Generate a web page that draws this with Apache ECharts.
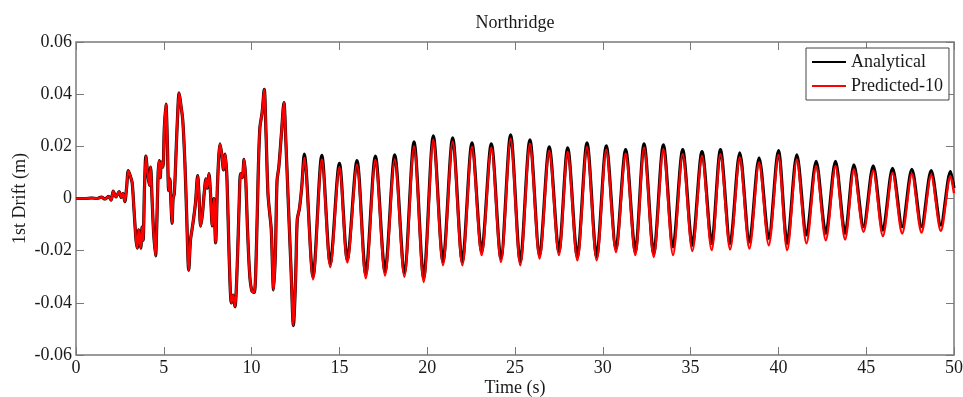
<!DOCTYPE html>
<html>
<head>
<meta charset="utf-8">
<title>Northridge</title>
<script src="https://cdn.jsdelivr.net/npm/echarts@6/dist/echarts.min.js"></script>
<style>
  html, body { margin: 0; padding: 0; background: #fff; }
  #chart { width: 963px; height: 397px; }
</style>
</head>
<body>
<div id="chart"></div>
<script>
// first ~13 s: both responses lie on top of each other
const earlyTimes = [
  0, 0.5, 0.9, 1.2, 1.45, 1.65, 1.85, 2.0, 2.12, 2.28, 2.45, 2.58, 2.68, 2.78, 2.88, 2.98,
  3.1, 3.2, 3.3, 3.42, 3.49, 3.57, 3.63, 3.69, 3.76, 3.82, 3.9, 3.98, 4.08, 4.18, 4.25,
  4.33, 4.42, 4.53, 4.6, 4.68, 4.74, 4.8, 4.86, 4.95, 5.03, 5.12, 5.2, 5.28, 5.35, 5.41,
  5.47, 5.53, 5.6, 5.7, 5.8, 5.87, 5.97, 6.08, 6.2, 6.3, 6.42, 6.52, 6.65, 6.8, 6.93,
  7.0, 7.1, 7.2, 7.3, 7.4, 7.47, 7.57, 7.66, 7.76, 7.85, 7.95, 8.05, 8.13, 8.2, 8.3,
  8.4, 8.5, 8.6, 8.72, 8.85, 8.95, 9.05, 9.18, 9.3, 9.37, 9.47, 9.57, 9.66, 9.78, 9.9,
  10.02, 10.15, 10.27, 10.37, 10.47, 10.6, 10.72, 10.82, 10.93, 11.02, 11.12, 11.25,
  11.35, 11.45, 11.55, 11.7, 11.84, 11.95, 12.08, 12.25, 12.38, 12.5, 12.6, 12.72, 12.85
];
const earlyDrift = [
  0, 0, 0.0002, 0, 0.0005, -0.0002, 0.0008, -0.0006, 0.0028, 0.0006, 0.0026, 0.0004, 0.002, -0.0012, 0.004, 0.0107,
  0.0085, 0.006, -0.004, -0.016, -0.019, -0.012, -0.016, -0.019, -0.011, -0.016, 0.004, 0.0163, 0.0095, 0.005, 0.012,
  0, -0.013, -0.022, -0.01, 0.01, 0.0145, 0.008, 0.014, 0.012, 0.027, 0.0362, 0.022, 0.003, 0.0075, -0.002,
  -0.0095, 0, 0.002, 0.018, 0.034, 0.0405, 0.036, 0.03, 0.014, -0.006, -0.0275, -0.016, -0.01, -0.002, 0.0088,
  0.002, -0.0106, -0.006, 0.002, 0.0075, 0.004, 0.0095, 0.002, -0.0105, 0, -0.017, 0.004, 0.016, 0.021, 0.017,
  0.011, 0.017, 0.007, -0.022, -0.04, -0.037, -0.0415, -0.026, 0, 0.0095, 0.008, 0.015, 0.008, -0.014, -0.03,
  -0.0355, -0.036, -0.02, 0.008, 0.027, 0.033, 0.0418, 0.025, 0.002, -0.005, -0.012, -0.035,
  -0.022, 0.007, 0.012, 0.025, 0.0368, 0.022, 0, -0.028, -0.0487, -0.032, -0.008, -0.004, 0.004
];

// free vibration part: peaks and troughs, the two curves separate slightly
const laterTimes = [
  13.0, 13.5, 14.0, 14.48, 15.0, 15.45, 16.0, 16.5, 17.05, 17.6, 18.15, 18.7, 19.25, 19.8,
  20.35, 20.9, 21.45, 22.0, 22.55, 23.1, 23.65, 24.2, 24.75, 25.3, 25.85, 26.4, 26.95, 27.5,
  28.0, 28.55, 29.1, 29.65, 30.2, 30.75, 31.3, 31.85, 32.35, 32.9, 33.45, 34.0, 34.55, 35.1,
  35.65, 36.2, 36.7, 37.25, 37.8, 38.35, 38.9, 39.45, 40.0, 40.5, 41.05, 41.6, 42.15, 42.7,
  43.25, 43.8, 44.3, 44.85, 45.4, 45.95, 46.5, 47.05, 47.6, 48.15, 48.7, 49.25, 49.8, 50.0
];
const laterAnalytical = [
  0.017, -0.030, 0.0165, -0.025, 0.0135, -0.0235, 0.0145, -0.029, 0.0163, -0.028, 0.0167, -0.0285, 0.0217, -0.0305,
  0.024, -0.0242, 0.0233, -0.0242, 0.0213, -0.0203, 0.021, -0.023, 0.0244, -0.0242, 0.0225, -0.0216, 0.0198, -0.0203,
  0.0194, -0.0223, 0.0213, -0.0223, 0.0202, -0.0191, 0.0187, -0.0203, 0.021, -0.021, 0.0206, -0.0185, 0.0187, -0.0179,
  0.018, -0.0172, 0.0187, -0.0172, 0.0175, -0.0166, 0.0156, -0.0153, 0.0184, -0.0172, 0.0167, -0.014, 0.0142, -0.0134,
  0.0142, -0.0134, 0.0129, -0.0108, 0.0125, -0.0121, 0.0116, -0.0108, 0.0112, -0.0108, 0.0107, -0.0102, 0.0103, 0.004
];
const laterPredicted = [
  0.0155, -0.031, 0.015, -0.0263, 0.012, -0.0245, 0.013, -0.0306, 0.0148, -0.0295, 0.015, -0.030, 0.020, -0.032,
  0.0225, -0.0256, 0.0218, -0.0256, 0.0198, -0.0217, 0.0195, -0.0243, 0.0229, -0.0256, 0.021, -0.023, 0.0183, -0.0217,
  0.0179, -0.0237, 0.0198, -0.0237, 0.0187, -0.0205, 0.0172, -0.0217, 0.0195, -0.0224, 0.0189, -0.0217, 0.017, -0.0201,
  0.0163, -0.0198, 0.017, -0.0195, 0.0158, -0.0192, 0.0139, -0.0179, 0.0167, -0.0198, 0.015, -0.0172, 0.0125, -0.016,
  0.0125, -0.0157, 0.0112, -0.0128, 0.0108, -0.0144, 0.0099, -0.0134, 0.0095, -0.0131, 0.009, -0.0124, 0.0086, 0.002
];

const textColor = '#1a1a1a';
const frameColor = '#7a7a7a';
const font = 'Liberation Serif';

function pairs(times, values) {
  return times.map((t, i) => [t, values[i]]);
}

const analytical = pairs(earlyTimes, earlyDrift).concat(pairs(laterTimes, laterAnalytical));
const predicted = pairs(earlyTimes, earlyDrift).concat(pairs(laterTimes, laterPredicted));

const chart = echarts.init(document.getElementById('chart'), null, { renderer: 'canvas' });

const tickStyle = { show: true, inside: true, length: 8, lineStyle: { color: frameColor, width: 1 } };
const hiddenLine = { show: false, onZero: false };

chart.setOption({
  animation: false,
  backgroundColor: '#fff',
  textStyle: { fontFamily: font, color: textColor },
  grid: {
    left: 76, right: 9, top: 42, bottom: 42,
    outerBoundsMode: 'none',
    containLabel: false,
    show: true, borderColor: frameColor, borderWidth: 1.5, backgroundColor: '#fff'
  },
  legend: {
    orient: 'vertical',
    left: 806, top: 48,
    padding: [5, 6, 5, 6],
    itemGap: 6,
    itemWidth: 34,
    itemHeight: 2,
    icon: 'rect',
    borderColor: '#444', borderWidth: 1,
    backgroundColor: '#fff',
    textStyle: { fontFamily: font, fontSize: 18, color: textColor },
    data: ['Analytical', 'Predicted-10']
  },
  xAxis: [
    {
      type: 'value', min: 0, max: 50, interval: 5,
      name: 'Time (s)', nameLocation: 'middle', nameGap: 24, nameMoveOverlap: false,
      nameTextStyle: { fontFamily: font, fontSize: 18, color: textColor },
      axisLine: hiddenLine,
      axisTick: tickStyle,
      splitLine: { show: false },
      axisLabel: { fontFamily: font, fontSize: 18, color: textColor, margin: 4 }
    },
    {
      type: 'value', min: 0, max: 50, interval: 5, position: 'top',
      name: 'Northridge', nameLocation: 'middle', nameGap: 10, nameMoveOverlap: false,
      nameTextStyle: { fontFamily: font, fontSize: 18, color: textColor },
      axisLine: hiddenLine,
      axisTick: tickStyle,
      splitLine: { show: false },
      axisLabel: { show: false }
    }
  ],
  yAxis: [
    {
      type: 'value', min: -0.06, max: 0.06, interval: 0.02,
      name: '1st Drift (m)', nameLocation: 'middle', nameGap: 47, nameMoveOverlap: false,
      nameTextStyle: { fontFamily: font, fontSize: 18, color: textColor },
      axisLine: hiddenLine,
      axisTick: tickStyle,
      splitLine: { show: false },
      axisLabel: {
        fontFamily: font, fontSize: 18, color: textColor, margin: 4,
        formatter: (v) => (Math.abs(v) < 1e-9 ? '0' : v.toFixed(2))
      }
    },
    {
      type: 'value', min: -0.06, max: 0.06, interval: 0.02, position: 'right',
      axisLine: hiddenLine,
      axisTick: tickStyle,
      splitLine: { show: false },
      axisLabel: { show: false }
    }
  ],
  series: [
    {
      name: 'Analytical',
      type: 'line',
      data: analytical,
      xAxisIndex: 0, yAxisIndex: 0,
      symbol: 'none',
      smooth: 0.3,
      lineStyle: { color: '#000', width: 3.2 },
      itemStyle: { color: '#000' },
      z: 2
    },
    {
      name: 'Predicted-10',
      type: 'line',
      data: predicted,
      xAxisIndex: 0, yAxisIndex: 0,
      symbol: 'none',
      smooth: 0.3,
      lineStyle: { color: '#ff0000', width: 2.4 },
      itemStyle: { color: '#ff0000' },
      z: 3
    }
  ]
});
</script>
</body>
</html>
